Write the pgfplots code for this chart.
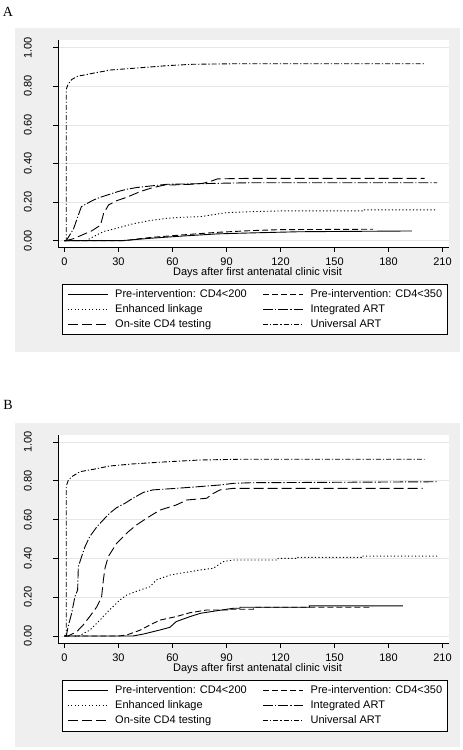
\documentclass[border=0pt]{standalone}
\usepackage{fontspec}
\setmainfont{Liberation Sans}
\newfontfamily\panelfont{Liberation Serif}
\usepackage{pgfplots}
\pgfplotsset{compat=1.18}
\definecolor{bgg}{RGB}{239,239,239}
\definecolor{gridc}{RGB}{230,230,230}
\pgfplotsset{
  panel/.style={
    scale only axis, width=391bp,
    xmin=-3.6, xmax=213.6,
    axis x line*=bottom, axis y line*=left,
    axis line style={-, black, line width=0.6bp},
    axis background/.style={fill=white},
    xtick={0,30,...,210}, ytick={0,0.2,0.4,0.6,0.8,1},
    ymajorgrids, major grid style={draw=gridc, line width=0.7bp},
    tick align=outside, major tick length=5bp, tick style={black, line width=0.6bp},
    /pgf/number format/assume math mode=true,
    tick label style={font=\fontsize{11bp}{13bp}\selectfont},
    yticklabel style={rotate=90, anchor=south, inner sep=0pt, yshift=21bp, /pgf/number format/.cd, fixed, fixed zerofill, precision=2},
    xticklabel style={anchor=north, inner sep=0pt},
    xticklabel shift=5.2bp,
    xlabel={Days after first antenatal clinic visit},
    xlabel style={at={(axis description cs:0.5,0)}, anchor=base, yshift=-28.8bp, xshift=4bp, inner sep=0pt, font=\fontsize{11bp}{13bp}\selectfont},
    legend columns=2,
    legend cell align=left,
    legend image code/.code={\draw[##1] (0bp,0bp) -- (40bp,0bp);},
    legend style={at={(axis description cs:0,0)}, anchor=north west, xshift=4bp, yshift=-37bp,
      draw=black, line width=0.6bp, fill=white, inner xsep=5bp, inner ysep=5bp,
      font=\fontsize{11bp}{13bp}\selectfont,
      nodes={inner sep=0pt, text height=8bp, text depth=2.5bp},
      row sep=4.5bp,
      /tikz/every odd column/.append style={column sep=7bp},
      /tikz/every even column/.append style={column sep=16bp}},
  },
  s200/.style={black, line width=0.9bp},
  s350/.style={black, line width=0.9bp, dash pattern=on 6bp off 3bp},
  senh/.style={black, line width=0.9bp, dash pattern=on 1.2bp off 2.3bp},
  sint/.style={black, line width=0.9bp, dash pattern=on 10bp off 2bp on 1.2bp off 2bp},
  sons/.style={black, line width=0.9bp, dash pattern=on 10bp off 4bp},
  suni/.style={black, line width=0.9bp, dash pattern=on 5bp off 2bp on 1.2bp off 2bp},
}
\begin{document}
\begin{tikzpicture}[x=1bp,y=1bp]
\useasboundingbox (0,0) rectangle (463,750);
\fill[bgg] (15,398) rectangle (460,722);
\fill[bgg] (15,3) rectangle (460,327);
\node[anchor=base west, inner sep=0pt, font=\panelfont\fontsize{14bp}{16bp}\selectfont] at (2.7,733.3) {A};
\node[anchor=base west, inner sep=0pt, font=\panelfont\fontsize{14bp}{16bp}\selectfont] at (3.3,340) {B};
% ---------------- Panel A
\begin{axis}[panel, at={(58bp,503bp)}, anchor=south west, height=207bp, ymin=-0.033, ymax=1.04]
\addplot[s200] coordinates {(0,0)(32,0)(40,0.006)(47.5,0.012)(66,0.024)(85,0.035)(104,0.040)(130,0.046)(160,0.048)(193,0.050)};
\addlegendentry{Pre-intervention: CD4<200}
\addplot[s350] coordinates {(0,0)(34,0)(40,0.008)(47.5,0.016)(66,0.030)(85,0.043)(104,0.052)(120,0.057)(171.5,0.059)};
\addlegendentry{Pre-intervention: CD4<350}
\addplot[senh] coordinates {(0,0)(12,0)(16,0.020)(21.6,0.047)(29,0.064)(38,0.087)(47.5,0.104)(57,0.116)(66,0.121)(75.5,0.124)(85,0.138)(90,0.145)(104,0.150)(120,0.154)(166,0.154)(166,0.159)(207,0.159)};
\addlegendentry{Enhanced linkage}
\addplot[sint] coordinates {(0,0)(1,0)(3,0.03)(5,0.06)(6.5,0.10)(8,0.14)(9.4,0.176)(12,0.19)(16,0.21)(20,0.225)(24,0.237)(30,0.255)(34.5,0.266)(40,0.275)(47.5,0.283)(57,0.292)(75,0.295)(90,0.298)(104,0.300)(207,0.300)};
\addlegendentry{Integrated ART}
\addplot[sons] coordinates {(0,0)(1,0)(5,0.01)(10,0.03)(15,0.05)(20,0.08)(21.7,0.14)(24.5,0.185)(29,0.207)(34.7,0.225)(42,0.254)(48,0.272)(55,0.287)(70,0.292)(77,0.297)(82,0.31)(85,0.32)(104,0.323)(200,0.323)};
\addlegendentry{On-site CD4 testing}
\addplot[suni] coordinates {(0,0)(1,0)(1,0.785)(2,0.81)(4,0.835)(7.5,0.853)(12,0.86)(17,0.87)(22,0.878)(25,0.884)(38,0.893)(57,0.907)(71,0.914)(97,0.917)(200,0.917)};
\addlegendentry{Universal ART}
\end{axis}
% ---------------- Panel B
\begin{axis}[panel, at={(58bp,107bp)}, anchor=south west, height=208bp, ymin=-0.036, ymax=1.036]
\addplot[s200] coordinates {(0,0)(38,0)(43.8,0.01)(53,0.031)(58.6,0.045)(62,0.074)(69.7,0.10)(75.5,0.117)(84.5,0.13)(93.8,0.143)(97.5,0.143)(97.5,0.148)(136,0.148)(136,0.155)(188,0.155)};
\addlegendentry{Pre-intervention: CD4<200}
\addplot[s350] coordinates {(0,0)(30,0)(34.5,0.005)(42,0.03)(47.5,0.057)(53,0.082)(62,0.10)(69.7,0.12)(79,0.134)(92,0.134)(92,0.138)(105,0.138)(105,0.148)(171,0.148)};
\addlegendentry{Pre-intervention: CD4<350}
\addplot[senh] coordinates {(0,0)(8,0)(14,0.03)(19.7,0.082)(25,0.134)(30.8,0.186)(34.5,0.211)(42,0.237)(47.5,0.254)(51,0.289)(58.6,0.314)(64,0.323)(69.7,0.331)(75,0.34)(82.7,0.349)(88,0.383)(94,0.392)(118.6,0.392)(118.6,0.40)(129,0.40)(129,0.405)(165,0.405)(165,0.412)(207,0.412)};
\addlegendentry{Enhanced linkage}
\addplot[sint] coordinates {(0,0)(1,0)(2,0.048)(4,0.118)(5.8,0.203)(7.3,0.237)(7.7,0.357)(9.5,0.409)(11.4,0.46)(14,0.512)(18,0.563)(21.5,0.598)(25,0.632)(29,0.662)(33.6,0.684)(38,0.71)(43.8,0.74)(49,0.753)(62,0.761)(75,0.77)(86,0.778)(94,0.787)(104,0.79)(207,0.795)};
\addlegendentry{Integrated ART}
\addplot[sons] coordinates {(0,0)(2,0)(6.8,0.022)(10.4,0.057)(14,0.10)(18,0.151)(20.6,0.2)(21.6,0.289)(22.5,0.349)(24.3,0.409)(29,0.478)(35.5,0.538)(40,0.572)(45.6,0.607)(53,0.649)(62,0.675)(68,0.701)(79,0.71)(82.7,0.735)(86.4,0.753)(93.8,0.761)(199,0.761)};
\addlegendentry{On-site CD4 testing}
\addplot[suni] coordinates {(0,0)(1,0)(1,0.773)(2,0.80)(4,0.821)(8.6,0.847)(16,0.859)(25,0.876)(38,0.887)(57,0.898)(75,0.907)(97.5,0.911)(200,0.911)};
\addlegendentry{Universal ART}
\end{axis}
\end{tikzpicture}
\end{document}
